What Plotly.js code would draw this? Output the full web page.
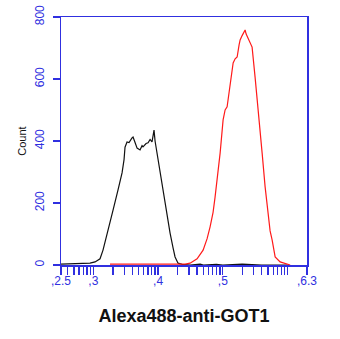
<!DOCTYPE html>
<html>
<head>
<meta charset="utf-8">
<script src="https://cdn.plot.ly/plotly-3.0.1.min.js"></script>
<style>
  html, body { margin: 0; padding: 0; background: #fff; }
  #chart { width: 340px; height: 339px; }
</style>
</head>
<body>
<div id="chart"></div>
<script>
// Fluorescence intensity (log10 units) and event counts
const blackX = [2.500, 2.639, 2.794, 2.948, 3.026, 3.103, 3.149, 3.196, 3.226, 3.304, 3.381, 3.443, 3.474, 3.489, 3.520, 3.551, 3.597, 3.613, 3.644, 3.675, 3.721, 3.752, 3.767, 3.814, 3.845, 3.876, 3.906, 3.922, 3.937, 3.953, 3.984, 4.030, 4.076, 4.138, 4.185, 4.231, 4.262, 4.308, 4.370, 4.494, 4.650, 4.700, 4.900, 5.000, 5.300, 5.600, 6.000];
const blackY = [3, 4, 5, 6, 10, 20, 48, 85, 113, 177, 242, 297, 340, 380, 397, 395, 410, 413, 395, 377, 371, 385, 381, 392, 394, 405, 397, 415, 435, 400, 361, 297, 232, 155, 103, 55, 26, 6, 2, 0, 3, 0, 2, 0, 3, 0, 0];

const redX = [3.257, 3.400, 3.600, 3.876, 4.100, 4.417, 4.494, 4.602, 4.695, 4.757, 4.803, 4.849, 4.880, 4.927, 4.958, 5.004, 5.035, 5.066, 5.112, 5.159, 5.190, 5.221, 5.251, 5.267, 5.298, 5.313, 5.344, 5.360, 5.391, 5.421, 5.452, 5.498, 5.545, 5.607, 5.653, 5.699, 5.730, 5.761, 5.808, 5.885, 5.962, 6.040];
const redY = [3, 2, 3, 3, 2, 3, 6, 20, 48, 85, 123, 170, 219, 300, 361, 468, 500, 510, 574, 652, 665, 671, 710, 726, 740, 748, 758, 745, 732, 720, 703, 606, 490, 361, 252, 170, 110, 81, 26, 10, 4, 0];

const xTickVals = [2.5, 3, 4, 5, 6.3];
const xTickText = [',2.5', ',3', ',4', ',5', ',6.3'];
const xMinorVals = [2.602, 2.699, 2.778, 2.845, 2.903, 2.954,
                    3.301, 3.477, 3.602, 3.699, 3.778, 3.845, 3.903, 3.954,
                    4.301, 4.477, 4.602, 4.699, 4.778, 4.845, 4.903, 4.954,
                    5.301, 5.477, 5.602, 5.699, 5.778, 5.845, 5.903, 5.954, 6.0];
const yTickVals = [0, 200, 400, 600, 800];

const axisBlue = '#3030e0';

const traces = [
  { x: blackX, y: blackY, type: 'scatter', mode: 'lines',
    line: { color: '#111111', width: 1.2 }, hoverinfo: 'skip' },
  { x: redX, y: redY, type: 'scatter', mode: 'lines',
    line: { color: '#ff1a1a', width: 1.2 }, hoverinfo: 'skip' }
];

const layout = {
  width: 340, height: 339,
  margin: { l: 61, r: 33, t: 17, b: 74 },
  paper_bgcolor: '#ffffff', plot_bgcolor: '#ffffff',
  showlegend: false,
  font: { family: 'Liberation Sans, Arial, sans-serif' },
  xaxis: {
    range: [2.5, 6.3], showgrid: false, zeroline: false,
    showline: true, linecolor: axisBlue, linewidth: 1.5, mirror: true,
    tickmode: 'array', tickvals: xTickVals, ticktext: xTickText,
    ticks: 'outside', ticklen: 8, tickcolor: axisBlue, tickwidth: 1.3,
    ticklabelstandoff: -4,
    tickfont: { size: 12, color: axisBlue },
    minor: { tickmode: 'array', tickvals: xMinorVals, ticks: 'outside',
             ticklen: 8, tickcolor: axisBlue, tickwidth: 1.3, showgrid: false },
    title: { text: '<b>Alexa488-anti-GOT1</b>', font: { size: 18, color: '#111111' }, standoff: 22 }
  },
  yaxis: {
    range: [0, 800], showgrid: false, zeroline: false,
    showline: true, linecolor: axisBlue, linewidth: 1.5, mirror: true,
    tickmode: 'array', tickvals: yTickVals,
    ticks: 'outside', ticklen: 7, tickcolor: axisBlue, tickwidth: 1.3,
    tickangle: -90, ticklabelstandoff: 4,
    tickfont: { size: 12, color: axisBlue },
    title: { text: 'Count', font: { size: 11, color: '#111111' }, standoff: 4 }
  }
};

Plotly.newPlot('chart', traces, layout, { displayModeBar: false, staticPlot: true });
</script>
</body>
</html>
